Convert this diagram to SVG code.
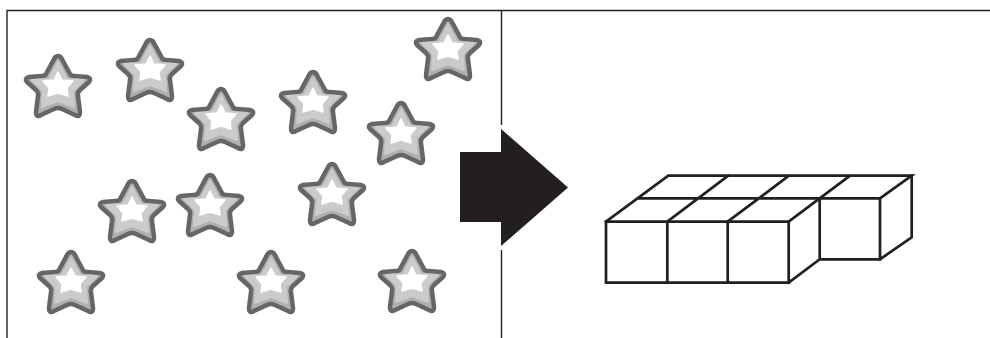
<svg xmlns="http://www.w3.org/2000/svg" width="990" height="338" viewBox="0 0 990 338">
<defs>
<style>
.frame{fill:none;stroke:#222;stroke-width:1.4}
.cube{fill:none;stroke:#231f20;stroke-width:2.7;stroke-linejoin:miter;stroke-linecap:square}
.a{fill:#b0b0b0;stroke:#666;stroke-width:4.5;stroke-linejoin:round}
.b{fill:#cbcbcb;stroke:#cbcbcb;stroke-width:2;stroke-linejoin:round}
.c{fill:#fff;stroke:#fff;stroke-width:1.5;stroke-linejoin:round}
</style>
<path id="s" d="M0,-31 Q3,-31 5,-26 L12,-13 Q13,-11 16,-11 L29,-10 Q34,-9 31,-5 L22,3 Q19,6 20,9 L22,25 Q22,31 17,28 L4,22 Q0,20 -4,22 L-17,28 Q-22,31 -22,25 L-20,9 Q-19,6 -22,3 L-31,-5 Q-34,-9 -29,-10 L-16,-11 Q-13,-11 -12,-13 L-5,-26 Q-3,-31 0,-31Z"/>
<path id="m" d="M0,-25 L9,-8 L26,-7 L15,4 L16,20 L0,14 L-16,20 L-15,4 L-26,-7 L-9,-8Z"/>
<path id="w" d="M0,-15 L4,-7 L15,-6 L9,1 L10,9 L0,6 L-10,9 L-9,1 L-15,-6 L-4,-7Z"/>
<g id="star"><use href="#s" class="a"/><use href="#m" class="b"/><use href="#w" class="c"/></g>
</defs>
<g id="connectors">
<path class="frame" d="M7,338V10.500H990M501.500,10.500V125M501.500,250V338"/>
</g>
<g id="stars">
<use href="#star" x="58" y="87"/>
<use href="#star" x="150" y="71"/>
<use href="#star" x="221" y="120"/>
<use href="#star" x="313" y="103"/>
<use href="#star" x="401" y="134"/>
<use href="#star" x="448" y="50"/>
<use href="#star" x="132" y="212"/>
<use href="#star" x="210" y="206"/>
<use href="#star" x="332" y="195"/>
<use href="#star" x="71" y="283"/>
<use href="#star" x="271" y="283"/>
<use href="#star" x="412" y="282"/>
</g>
<g id="arrow"><path fill="#231f20" d="M460,152H501V129L568,187.500L501,246V222H460Z"/></g>
<g id="cubes">
<path class="cube" d="M606,221.700H788.700V282.700H606ZM667.300,221.700V282.700M727.700,221.700V282.700"/>
<path class="cube" d="M606,221.700L668.300,175.700H911.700L880,198.300H637.700M667.300,221.700L728.300,175.700M727.700,221.700L789,175.700M788.700,221.700L850,175.700"/>
<path class="cube" d="M819.700,198.300V259.300H880V198.300M880,259.300L911.700,237.300V175.700M788.700,282.700L819.700,259.300"/>
</g>
</svg>
